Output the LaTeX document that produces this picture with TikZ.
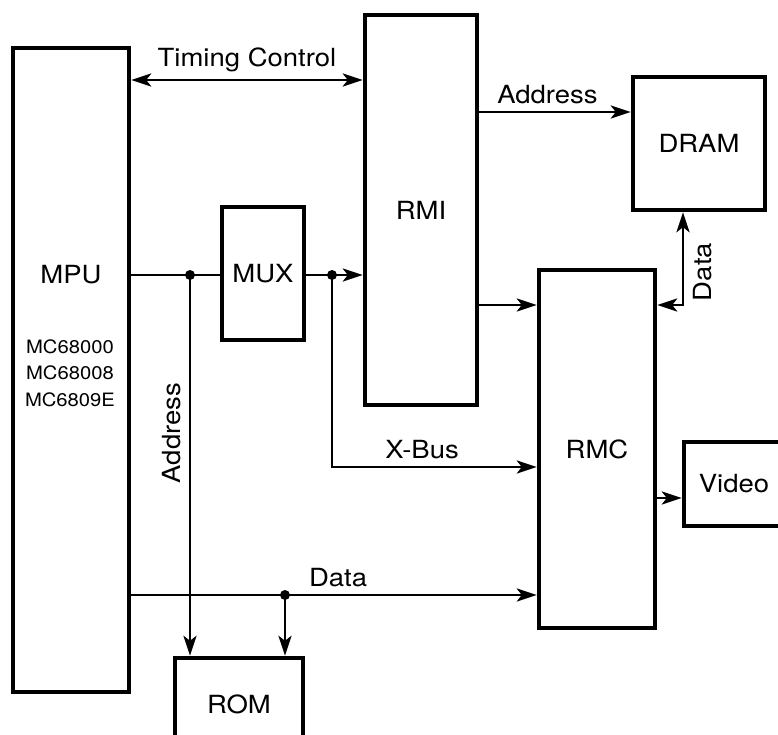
\documentclass[tikz,border=0pt]{standalone}
\usepackage{fontspec}
\setmainfont{TeX Gyre Heros}[FakeStretch=1.1]
\usepackage{tikz}
\usetikzlibrary{arrows.meta,positioning,calc}

\begin{document}
\begin{tikzpicture}[x=0.5pt, y=-0.5pt,
    box/.style={draw, line width=2.2pt, inner sep=0pt, font=\fontsize{12.5}{14}\selectfont},
    arr/.style={-{Stealth[length=10pt,width=6.5pt,inset=2.5pt]}, line width=1.4pt},
    dblarr/.style={{Stealth[length=10pt,width=6.5pt,inset=2.5pt]}-{Stealth[length=10pt,width=6.5pt,inset=2.5pt]}, line width=1.4pt},
    wire/.style={line width=1.4pt},
    lbl/.style={font=\fontsize{12.5}{14}\selectfont},
    dot/.style={circle, fill, inner sep=0pt, minimum size=5pt}
]
\useasboundingbox (0,0) rectangle (778,735);
\clip (0,0) rectangle (778,735);

% blocks
\node[box, minimum width=58pt, minimum height=322pt] (mpu) at (71,370) {};
\node[box, minimum width=56pt, minimum height=195pt] (rmi) at (421,210) {RMI};
\node[box, minimum width=66pt, minimum height=66.5pt] (dram) at (699,143.5) {DRAM};
\node[box, minimum width=41pt, minimum height=66.5pt] (mux) at (263,273.5) {MUX};
\node[box, minimum width=58pt, minimum height=179pt] (rmc) at (597,449) {RMC};
\node[box, minimum width=50pt, minimum height=42pt] (video) at (734,484) {Video};
\node[box, minimum width=64pt, minimum height=46pt] (rom) at (239,704) {ROM};

\node[lbl] (mpulbl) at (71,275) {MPU};
\node[font=\fontsize{9.2}{13.2}\selectfont, align=center] (mpuchips) at (70,373) {MC68000\\MC68008\\MC6809E};

% junctions
\coordinate (ja) at (190,275);
\coordinate (jb) at (332,275);
\coordinate (jc) at (285,595);

% buses
\draw[dblarr] (mpu.east |- 0,80) -- (rmi.west |- 0,80) node[lbl, midway, above] {Timing Control};
\draw[arr] (rmi.east |- 0,112) -- (dram.west |- 0,112) node[lbl, pos=0.45, above] {Address};
\draw[wire] (mpu.east |- ja) -- (mux.west |- ja);
\draw[arr] (mux.east |- jb) -- (rmi.west |- jb);
\draw[arr] (jb) |- (rmc.west |- 0,467) node[lbl, pos=0.72, above] {X-Bus};
\draw[arr] (rmi.east |- 0,305) -- (rmc.west |- 0,305);
\draw[dblarr] (dram.south -| 683,0) |- (rmc.east |- 0,305);
\node[lbl, rotate=90] (datalbl) at (703,272) {Data};
\draw[arr] (rmc.east |- 0,498) -- (video.west |- 0,498);
\draw[arr] (ja) -- (rom.north -| ja);
\node[lbl, rotate=90] (addrlbl) at (172,433) {Address};
\draw[arr] (mpu.east |- jc) -- (rmc.west |- jc) node[lbl, pos=0.51, above] {Data};
\draw[arr] (jc) -- (rom.north -| jc);

\node[dot] at (ja) {};
\node[dot] at (jb) {};
\node[dot] at (jc) {};
\end{tikzpicture}
\end{document}
